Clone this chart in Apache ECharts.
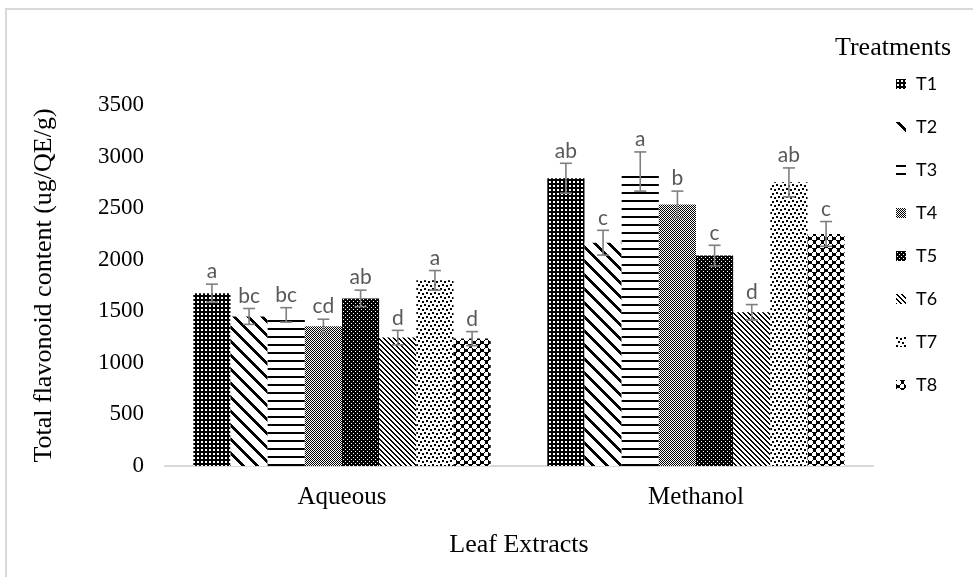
<!DOCTYPE html>
<html>
<head>
<meta charset="utf-8">
<script src="https://cdn.jsdelivr.net/npm/echarts@6/dist/echarts.min.js"></script>
<style>
  html, body { margin: 0; padding: 0; background: #fff; }
  #main { width: 973px; height: 577px; }
</style>
</head>
<body>
<div id="main"></div>
<script>
// data
var extracts = ['Aqueous', 'Methanol'];
var treatments = ['T1', 'T2', 'T3', 'T4', 'T5', 'T6', 'T7', 'T8'];
// value per treatment: [Aqueous, Methanol]
var meanT1 = [1675, 2790];
var meanT2 = [1450, 2165];
var meanT3 = [1465, 2855];
var meanT4 = [1355, 2535];
var meanT5 = [1625, 2040];
var meanT6 = [1245, 1490];
var meanT7 = [1800, 2750];
var meanT8 = [1235, 2250];
var errT1 = [88, 145];
var errT2 = [77, 120];
var errT3 = [70, 190];
var errT4 = [68, 130];
var errT5 = [80, 100];
var errT6 = [70, 75];
var errT7 = [95, 140];
var errT8 = [68, 120];
var lettersAqueous = ['a', 'bc', 'bc', 'cd', 'ab', 'd', 'a', 'd'];
var lettersMethanol = ['ab', 'c', 'a', 'b', 'c', 'd', 'ab', 'c'];
var yTicks = [0, 500, 1000, 1500, 2000, 2500, 3000, 3500];

var means = [meanT1, meanT2, meanT3, meanT4, meanT5, meanT6, meanT7, meanT8];
var errs = [errT1, errT2, errT3, errT4, errT5, errT6, errT7, errT8];
var letters = [lettersAqueous, lettersMethanol];

// hatch patterns like the excel fills
function tile(size, draw) {
    var c = document.createElement('canvas');
    c.width = size;
    c.height = size;
    var g = c.getContext('2d');
    g.fillStyle = '#fff';
    g.fillRect(0, 0, size, size);
    g.fillStyle = '#000';
    draw(g, size);
    return { image: c, repeat: 'repeat' };
}
function px(g, list) {
    for (var i = 0; i < list.length; i++) g.fillRect(list[i][0], list[i][1], 1, 1);
}
var patterns = [
    // T1 small grid
    tile(4, function (g) {
        g.fillRect(0, 0, 4, 4);
        g.fillStyle = '#fff';
        g.fillRect(1, 1, 2, 2);
    }),
    // T2 wide downward diagonal
    tile(14, function (g, s) {
        for (var y = 0; y < s; y++) {
            for (var k = 0; k < 4; k++) g.fillRect((y + k) % s, y, 1, 1);
        }
    }),
    // T3 horizontal lines
    tile(8, function (g) {
        g.fillRect(0, 0, 8, 2);
    }),
    // T4 fine checker
    tile(4, function (g) {
        px(g, [[0, 0], [2, 0], [1, 1], [3, 1], [0, 2], [2, 2], [1, 3], [3, 3]]);
    }),
    // T5 dark with white dots
    tile(4, function (g) {
        g.fillRect(0, 0, 4, 4);
        g.fillStyle = '#fff';
        g.fillRect(1, 1, 1, 1);
        g.fillRect(3, 3, 1, 1);
    }),
    // T6 narrow downward diagonal
    tile(5, function (g, s) {
        for (var y = 0; y < s; y++) {
            g.fillRect(y % s, y, 1, 1);
            g.fillRect((y + 1) % s, y, 1, 1);
        }
    }),
    // T7 confetti
    tile(8, function (g) {
        g.fillRect(0, 0, 2, 2);
        g.fillRect(4, 1, 2, 2);
        g.fillRect(2, 4, 2, 2);
        g.fillRect(6, 5, 2, 2);
    }),
    // T8 spheres
    tile(8, function (g) {
        g.fillRect(0, 0, 8, 8);
        g.fillStyle = '#fff';
        g.fillRect(1, 0, 3, 5);
        g.fillRect(0, 1, 5, 3);
        g.fillRect(5, 4, 3, 5);
        g.fillRect(4, 5, 5, 3);
    })
];

var series = [];
for (var t = 0; t < treatments.length; t++) {
    series.push({
        name: treatments[t],
        type: 'bar',
        barGap: 0,
        barCategoryGap: '16%',
        itemStyle: { color: patterns[t] },
        data: means[t]
    });
}

var errRows = [];
for (var c = 0; c < extracts.length; c++) {
    for (var t2 = 0; t2 < treatments.length; t2++) {
        errRows.push([c, means[t2][c], errs[t2][c], t2]);
    }
}

series.push({
    type: 'custom',
    z: 10,
    silent: true,
    encode: { x: 0, y: 1 },
    data: errRows,
    renderItem: function (params, api) {
        var cat = api.value(0);
        var v = api.value(1);
        var e = api.value(2);
        var ti = api.value(3);
        var band = api.size([1, 0])[0];
        var group = band * 0.84;
        var bw = group / treatments.length;
        var center = api.coord([cat, v]);
        var x = center[0] - group / 2 + (ti + 0.5) * bw;
        var yHi = api.coord([cat, v + e])[1];
        var yLo = api.coord([cat, v - e])[1];
        var st = { stroke: '#7f7f7f', lineWidth: 1.6 };
        return {
            type: 'group',
            children: [
                { type: 'line', shape: { x1: x, y1: yLo, x2: x, y2: yHi }, style: st },
                { type: 'line', shape: { x1: x - 6, y1: yHi, x2: x + 6, y2: yHi }, style: st },
                { type: 'line', shape: { x1: x - 6, y1: yLo, x2: x + 6, y2: yLo }, style: st },
                {
                    type: 'text',
                    style: {
                        text: letters[cat][ti],
                        x: x,
                        y: yHi - 2,
                        align: 'center',
                        verticalAlign: 'bottom',
                        fill: '#595959',
                        font: '21px Lato'
                    }
                }
            ]
        };
    }
});

var myChart = echarts.init(document.getElementById('main'));
var option = {
    backgroundColor: '#fff',
    animation: false,
    grid: { left: 165, right: 100, top: 105, bottom: 111 },
    legend: {
        data: treatments,
        orient: 'vertical',
        left: 891,
        top: 70,
        icon: 'rect',
        itemWidth: 10,
        itemHeight: 10,
        itemGap: 25,
        textStyle: { fontFamily: 'Lato', fontSize: 18, color: '#000', padding: [0, 0, 0, 5] }
    },
    graphic: [
        {
            type: 'rect',
            shape: { x: 6, y: 9, width: 1200, height: 1200 },
            style: { fill: 'none', stroke: '#d9d9d9', lineWidth: 2 },
            silent: true
        },
        {
            type: 'text',
            right: 22,
            top: 35,
            style: { text: 'Treatments', font: '26px "Liberation Serif"', fill: '#000' }
        }
    ],
    xAxis: {
        type: 'category',
        data: extracts,
        name: 'Leaf Extracts',
        nameLocation: 'middle',
        nameGap: 66,
        nameTextStyle: { fontFamily: 'Liberation Serif', fontSize: 26, color: '#000' },
        axisLine: { lineStyle: { color: '#d9d9d9', width: 2 } },
        axisTick: { show: false },
        axisLabel: { fontFamily: 'Liberation Serif', fontSize: 25, color: '#000', margin: 19 }
    },
    yAxis: {
        type: 'value',
        min: yTicks[0],
        max: yTicks[yTicks.length - 1],
        interval: yTicks[1] - yTicks[0],
        name: 'Total flavonoid content (ug/QE/g)',
        nameLocation: 'middle',
        nameGap: 108,
        nameTextStyle: { fontFamily: 'Liberation Serif', fontSize: 26, color: '#000' },
        axisLine: { show: false },
        axisTick: { show: false },
        splitLine: { show: false },
        axisLabel: {
            fontFamily: 'Liberation Serif', fontSize: 23, color: '#000', margin: 21,
            formatter: function (v) { return String(v); }
        }
    },
    series: series
};
myChart.setOption(option);
</script>
</body>
</html>
